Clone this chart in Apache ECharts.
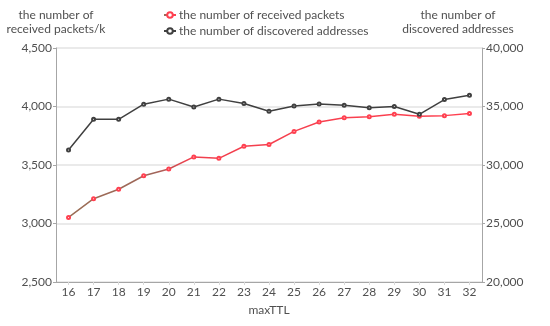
<!DOCTYPE html>
<html><head><meta charset="utf-8">
<script src="https://cdn.jsdelivr.net/npm/echarts@6/dist/echarts.min.js"></script>
<style>html,body{margin:0;padding:0;background:#fff}#c{width:550px;height:326px}</style>
</head><body><div id="c"></div>
<script>
var categories = ['16','17','18','19','20','21','22','23','24','25','26','27','28','29','30','31','32'];
var receivedPackets = [3052,3212,3293,3408,3466,3569,3557,3660,3675,3787,3867,3903,3913,3933,3916,3922,3940];
var discoveredAddresses = [31280,33910,33900,35200,35630,34950,35630,35260,34600,35050,35220,35110,34900,35000,34330,35590,35960];
var leftName = 'the number of\nreceived packets/k';
var rightName = 'the number of\ndiscovered addresses';
var seriesNames = ['the number of received packets','the number of discovered addresses'];

var font = 'Lato, "Open Sans", sans-serif';
var txt = '#505050';
var chart = echarts.init(document.getElementById('c'));
chart.setOption({
  animation: false,
  textStyle: {fontFamily: font},
  legend: {
    orient: 'vertical', left: 158, top: 4, itemGap: 4,
    itemWidth: 12, itemHeight: 7,
    textStyle: {fontFamily: font, fontSize: 12, color: txt, padding: [0, 0, 0, -2]},
    data: seriesNames
  },
  grid: {left: 56, right: 68, top: 48, bottom: 44, containLabel: false, outerBoundsMode: 'none'},
  xAxis: {
    type: 'category', data: categories, boundaryGap: true,
    name: 'maxTTL', nameLocation: 'middle', nameGap: 22,
    nameTextStyle: {fontFamily: font, fontSize: 12, color: txt},
    axisLine: {lineStyle: {color: '#a6a6a6'}},
    axisTick: {show: true, alignWithLabel: true, length: 3, lineStyle: {color: '#d9d9d9'}},
    axisLabel: {fontFamily: font, fontSize: 12, color: txt, margin: 4}
  },
  yAxis: [{
    type: 'value', min: 2500, max: 4500, interval: 500,
    name: leftName, nameLocation: 'end', nameGap: 12,
    nameTextStyle: {fontFamily: font, fontSize: 12, color: txt, align: 'center', lineHeight: 14},
    axisLine: {show: true, lineStyle: {color: '#a6a6a6'}},
    axisTick: {show: true, length: 3, lineStyle: {color: '#a6a6a6'}},
    axisLabel: {fontFamily: font, fontSize: 12, color: txt, margin: 4,
      formatter: function(v){ return v.toLocaleString('en-US'); }},
    splitLine: {lineStyle: {color: '#e3e3e3', width: 1.5}}
  }, {
    type: 'value', min: 20000, max: 40000, interval: 5000,
    name: rightName, nameLocation: 'end', nameGap: 12,
    nameTextStyle: {fontFamily: font, fontSize: 12, color: txt, align: 'center', padding: [0, 48, 0, 0], lineHeight: 14},
    axisLine: {show: true, lineStyle: {color: '#a6a6a6'}},
    axisTick: {show: true, length: 3, lineStyle: {color: '#a6a6a6'}},
    axisLabel: {fontFamily: font, fontSize: 12, color: txt, margin: 4,
      formatter: function(v){ return v.toLocaleString('en-US'); }},
    splitLine: {show: false}
  }],
  series: [{
    name: seriesNames[0], type: 'line', yAxisIndex: 0, data: receivedPackets,
    symbol: 'emptyCircle', symbolSize: 3, showAllSymbol: true,
    lineStyle: {width: 1.5, color: new echarts.graphic.LinearGradient(0, 0, 1, 0, [
      {offset: 0, color: '#9a6e55'}, {offset: 0.22, color: '#a0665a'}, {offset: 0.3, color: '#f0404e'}, {offset: 1, color: '#ff4050'}])},
    itemStyle: {color: '#ff4050', borderColor: '#c0c0c0', borderWidth: 1}
  }, {
    name: seriesNames[1], type: 'line', yAxisIndex: 1, data: discoveredAddresses,
    symbol: 'emptyCircle', symbolSize: 3, showAllSymbol: true,
    lineStyle: {width: 1.5, color: '#404040'},
    itemStyle: {color: '#404040', borderColor: '#aaaaaa', borderWidth: 1}
  }]
});
</script></body></html>
